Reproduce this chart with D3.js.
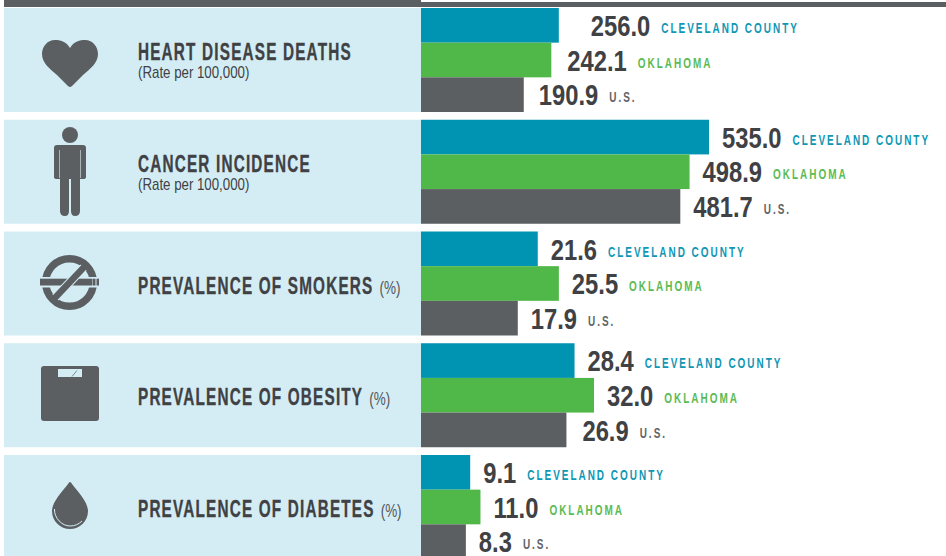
<!DOCTYPE html>
<html lang="en">
  <head>
    <meta charset="UTF-8" />
    <title>Cleveland County Health Indicators</title>
    <script src="https://d3js.org/d3.v7.min.js"></script>
    <style>
      html, body { margin: 0; padding: 0; background: #fff; }
      svg { display: block; }
      text { font-family: "Liberation Sans", sans-serif; }
    </style>
  </head>
  <body>
    <svg id="chart" width="946" height="556"></svg>

    <script>
      // values
      const categories = ["HEART DISEASE DEATHS", "CANCER INCIDENCE", "PREVALENCE OF SMOKERS", "PREVALENCE OF OBESITY", "PREVALENCE OF DIABETES"];
      const units = ["(Rate per 100,000)", "(Rate per 100,000)", "(%)", "(%)", "(%)"];
      const seriesNames = ["CLEVELAND COUNTY", "OKLAHOMA", "U.S."];
      const cleveland = [256.0, 535.0, 21.6, 28.4, 9.1];
      const oklahoma = [242.1, 498.9, 25.5, 32.0, 11.0];
      const us = [190.9, 481.7, 17.9, 26.9, 8.3];
      const seriesValues = [cleveland, oklahoma, us];

      const dark = "#5b5f62", textDark = "#404144", panel = "#d4edf5";
      const colors = ["#0093b2", "#50b848", dark];
      const labelColors = ["#0f97b5", "#5cbb55", "#5f6366"];

      const svg = d3.select("#chart");

      // rate rows and percent rows have their own x scale
      const xRate = d3.scaleLinear().domain([0, 535]).range([421, 709]);
      const xPct = d3.scaleLinear().domain([0, 32]).range([421, 594]);
      const xFor = (i) => (i < 2 ? xRate : xPct);

      const step = 111.75, gap = 7.75;
      const y0 = d3.scaleBand().domain(d3.range(5)).range([8, 8 + step * 5 - gap]).paddingInner(gap / step).paddingOuter(0);
      const y1 = d3.scaleBand().domain(d3.range(3)).range([0, y0.bandwidth()]);

      // no condensed face is installed, so squeeze the text horizontally
      function squeezed(parent, x, y, factor, str) {
        return parent.append("text")
          .attr("transform", `translate(${x},${y}) scale(${factor},1)`)
          .text(str);
      }

      // a few labels sit further out from the bar in the original
      const labelNudge = { "0-0": 19, "0-1": 3, "0-2": 2, "3-2": 3 };

      // top rule
      svg.append("rect").attr("x", 4).attr("y", 0).attr("width", 417).attr("height", 7).attr("fill", dark);
      svg.append("rect").attr("x", 421).attr("y", 2).attr("width", 525).attr("height", 5).attr("fill", dark);

      const rows = svg.selectAll("g.row").data(categories).enter().append("g")
        .attr("class", "row")
        .attr("transform", (d, i) => `translate(0,${y0(i)})`);

      rows.append("rect")
        .attr("x", 4).attr("y", 0)
        .attr("width", 417).attr("height", y0.bandwidth())
        .attr("fill", panel);

      // row titles, units and bars
      const titleFactor = 0.665, unitFactor = 0.83, valueFactor = 0.82, nameFactor = 0.665;
      rows.each(function (d, i) {
        const row = d3.select(this);
        const x = xFor(i);

        const title = squeezed(row, 138, i < 2 ? 52 : 62, titleFactor, d)
          .attr("fill", textDark)
          .attr("stroke", textDark)
          .attr("stroke-width", 0.35)
          .style("font-weight", "bold")
          .style("font-size", "23px")
          .style("letter-spacing", "1.8px");

        if (i < 2) {
          squeezed(row, 138, 70, unitFactor, units[i])
            .attr("fill", textDark)
            .style("font-size", "16px");
        } else {
          const end = 138 + title.node().getComputedTextLength() * titleFactor;
          squeezed(row, end + 6, 62, 0.75, units[i])
            .attr("fill", "#55585b")
            .style("font-size", "18px");
        }

        seriesValues.forEach((vals, s) => {
          row.append("rect")
            .attr("x", x(0)).attr("y", y1(s))
            .attr("width", x(vals[i]) - x(0)).attr("height", y1.bandwidth())
            .attr("fill", colors[s]);
          const lx = x(vals[i]) + 13 + (labelNudge[i + "-" + s] || 0);
          const val = squeezed(row, lx, y1(s) + 28, valueFactor, vals[i].toFixed(1))
            .attr("fill", textDark)
            .style("font-weight", "bold")
            .style("font-size", "29px");
          squeezed(row, lx + val.node().getComputedTextLength() * valueFactor + 11, y1(s) + 25, nameFactor, seriesNames[s])
            .attr("fill", labelColors[s])
            .style("font-weight", "bold")
            .style("font-size", "15px")
            .style("letter-spacing", "3px");
        });
      });

      // icons, each drawn around its own centre
      const icons = svg.append("g").attr("fill", dark);

      const heart = icons.append("g").attr("transform", "translate(70,60)");
      heart.append("path").attr("d", "M0,-12 C-4,-19 -10,-20 -15,-20 C-23,-20 -28,-13 -28,-6 C-28,3 -20,9 -13,15 L-2,26 Q0,28 2,26 L13,15 C20,9 28,3 28,-6 C28,-13 23,-20 15,-20 C10,-20 4,-19 0,-12 Z");

      const person = icons.append("g").attr("transform", "translate(70,135)");
      person.append("circle").attr("r", 8);
      person.append("path").attr("d", "M-13,10 H13 Q16,10 16,13 V42 Q16,44 13,44 H10 V76 Q10,81 5,81 Q1,81 1,76 V44 H-1 V76 Q-1,81 -5,81 Q-10,81 -10,76 V44 H-13 Q-16,44 -16,42 V13 Q-16,10 -13,10 Z");
      person.append("path").attr("d", "M-10.5,15 V43 M10.5,15 V43").attr("stroke", "#a9b4b8").attr("stroke-width", 1).attr("fill", "none");

      const smoke = icons.append("g").attr("transform", "translate(69.5,282.5)");
      smoke.append("circle").attr("r", 23.8).attr("fill", "none").attr("stroke", dark).attr("stroke-width", 7.5);
      // gap around the cigarette, then the cigarette with its ash stripes
      smoke.append("rect").attr("x", -30).attr("y", -5.5).attr("width", 60).attr("height", 10.5).attr("fill", panel);
      smoke.append("rect").attr("x", -29.5).attr("y", -3.8).attr("width", 52).attr("height", 6.8);
      smoke.append("rect").attr("x", 23).attr("y", -3.8).attr("width", 3).attr("height", 6.8);
      smoke.append("rect").attr("x", 27).attr("y", -3.8).attr("width", 2.5).attr("height", 6.8);
      smoke.append("line").attr("x1", -14).attr("y1", 15).attr("x2", 14).attr("y2", -15).attr("stroke", panel).attr("stroke-width", 8.5);
      smoke.append("line").attr("x1", -18).attr("y1", 19).attr("x2", 17).attr("y2", -18).attr("stroke", dark).attr("stroke-width", 6.5);

      const scale = icons.append("g").attr("transform", "translate(70,393.5)");
      scale.append("rect").attr("x", -29).attr("y", -27.5).attr("width", 58).attr("height", 55).attr("rx", 3);
      scale.append("rect").attr("x", -12).attr("y", -24.5).attr("width", 24).attr("height", 8).attr("fill", panel);
      scale.append("line").attr("x1", 2).attr("y1", -17).attr("x2", 7).attr("y2", -23).attr("stroke", dark).attr("stroke-width", 0.7);

      const drop = icons.append("g").attr("transform", "translate(70,511)");
      drop.append("path").attr("d", "M0,-29 Q1,-29 2,-27 C8,-19 18,-9 18,0 A18,18 0 0 1 -18,0 C-18,-9 -8,-19 -2,-27 Q-1,-29 0,-29 Z");
      drop.append("path").attr("d", "M-15.5,-2 C-16,7 -8,15 0,15 C5,15 9,13 12,10").attr("fill", "none").attr("stroke", panel).attr("stroke-width", 1);
    </script>
  </body>
</html>
